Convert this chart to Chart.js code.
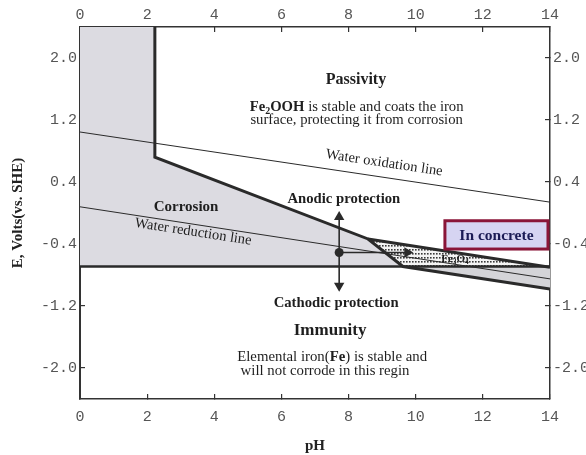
<!DOCTYPE html>
<html>
<head>
<meta charset="utf-8">
<script src="https://cdn.jsdelivr.net/npm/chart.js@4.4.1/dist/chart.umd.min.js"></script>
<style>
  html, body { margin: 0; padding: 0; background: #fff; }
</style>
</head>
<body>
<canvas id="pourbaix" width="586" height="455"></canvas>
<script>
// axes
const phTicks = [0, 2, 4, 6, 8, 10, 12, 14];
const eTicks = [-2.0, -1.2, -0.4, 0.4, 1.2, 2.0];
const phRange = [0, 14];
const eRange = [-2.4, 2.4];

// regions and boundaries, [pH, E]
const corrosionRegion = [[0, -0.69], [0, 2.4], [2.23, 2.4], [2.23, 0.72], [8.58, -0.335], [9.62, -0.69]];
const magnetiteRegion = [[8.58, -0.335], [9.62, -0.69], [14, -0.70]];
const alkalineRegion = [[9.62, -0.69], [14, -0.98], [14, -0.70]];
const passiveBoundary = [[2.23, 2.4], [2.23, 0.72], [8.58, -0.335], [9.62, -0.69], [14, -0.98]];
const oxideBoundary = [[8.58, -0.335], [14, -0.70]];
const immunityBoundary = [[0, -0.69], [14, -0.69]];
const waterOxidation = [[0, 1.045], [14, 0.14]];
const waterReduction = [[0, 0.08], [14, -0.85]];

// protection arrows (start at the operating point)
const operatingPoint = [[7.72, -0.51]];
const anodicArrow = [[7.72, -0.51], [7.72, -0.05]];
const cathodicArrow = [[7.72, -0.51], [7.72, -0.94]];
const concreteArrow = [[7.72, -0.51], [9.75, -0.51]];

// text
const textLabels = [
  { at: [8.22, 1.73], size: 16, parts: [['Passivity', 'b']] },
  { at: [8.24, 1.38], size: 14.7, parts: [['Fe', 'b'], ['2', 'bs'], ['OOH', 'b'], [' is stable and coats the iron', '']] },
  { at: [8.24, 1.21], size: 14.7, parts: [['surface, protecting it from corrosion', '']] },
  { at: [7.86, 0.19], size: 14.7, parts: [['Anodic protection', 'b']] },
  { at: [3.16, 0.09], size: 15, parts: [['Corrosion', 'b']] },
  { at: [7.63, -1.15], size: 14.7, parts: [['Cathodic protection', 'b']] },
  { at: [7.45, -1.50], size: 17, parts: [['Immunity', 'b']] },
  { at: [7.51, -1.845], size: 14.8, parts: [['Elemental iron(', ''], ['Fe', 'b'], [') is stable and', '']] },
  { at: [7.30, -2.03], size: 14.8, parts: [['will not corrode in this regin', '']] },
  { at: [11.17, -0.58], size: 11, parts: [['Fe', 'b'], ['3', 'bs'], ['O', 'b'], ['4', 'bs']] }
];
const lineLabels = [
  { text: 'Water oxidation line', along: waterOxidation, at: [9.06, 0.645], size: 14.5 },
  { text: 'Water reduction line', along: waterReduction, at: [3.37, -0.245], size: 14.5 }
];
const concreteBox = { text: 'In concrete', ph: [10.87, 13.94], e: [-0.10, -0.465] };

const SERIF = '"Liberation Serif", "Times New Roman", serif';
const INK = '#2a2a2a';

const pts = (a) => a.map(([x, y]) => ({ x, y }));

// dotted fill for the Fe3O4 wedge
const dots = (() => {
  const c = document.createElement('canvas');
  c.width = 3; c.height = 4;
  const g = c.getContext('2d');
  g.fillStyle = '#f4f4f4';
  g.fillRect(0, 0, 3, 4);
  g.fillStyle = '#3a3a3a';
  g.fillRect(1, 1, 1.6, 1.6);
  return g.createPattern(c, 'repeat');
})();

const line = (data, width) => ({
  data: pts(data), borderColor: INK, borderWidth: width, pointRadius: 0, fill: false
});
const region = (data, bg) => ({
  data: pts(data), borderWidth: 0, borderColor: 'rgba(0,0,0,0)', backgroundColor: bg, pointRadius: 0, fill: 'shape'
});
const arrow = (data, rot) => ({
  data: pts(data), borderColor: INK, borderWidth: 1.6, fill: false,
  pointStyle: 'triangle', pointRadius: [0, 6], pointRotation: [0, rot],
  pointBackgroundColor: INK, pointBorderWidth: 0
});

function richText(ctx, parts, cx, cy, size) {
  const segs = parts.map(([t, s]) => {
    const sub = s.includes('s');
    const font = (s.includes('b') ? 'bold ' : '') + (sub ? size * 0.68 : size) + 'px ' + SERIF;
    ctx.font = font;
    return { t, font, sub, w: ctx.measureText(t).width };
  });
  const total = segs.reduce((a, s) => a + s.w, 0);
  let xx = cx - total / 2;
  const base = cy + size * 0.33;
  ctx.textAlign = 'left';
  ctx.textBaseline = 'alphabetic';
  for (const s of segs) {
    ctx.font = s.font;
    ctx.fillText(s.t, xx, base + (s.sub ? size * 0.22 : 0));
    xx += s.w;
  }
}

const annotate = {
  id: 'annotate',
  afterDatasetsDraw(chart) {
    const { ctx } = chart;
    const x = chart.scales.x, y = chart.scales.y;
    ctx.save();
    ctx.fillStyle = '#1e1e1e';
    for (const l of textLabels) {
      richText(ctx, l.parts, x.getPixelForValue(l.at[0]), y.getPixelForValue(l.at[1]), l.size);
    }
    for (const l of lineLabels) {
      const [a, b] = l.along;
      const ang = Math.atan2(y.getPixelForValue(b[1]) - y.getPixelForValue(a[1]),
                             x.getPixelForValue(b[0]) - x.getPixelForValue(a[0]));
      ctx.save();
      ctx.translate(x.getPixelForValue(l.at[0]), y.getPixelForValue(l.at[1]));
      ctx.rotate(ang);
      ctx.font = l.size + 'px ' + SERIF;
      ctx.textAlign = 'center';
      ctx.textBaseline = 'middle';
      ctx.fillText(l.text, 0, 0);
      ctx.restore();
    }
    // "In concrete" box
    const bx0 = x.getPixelForValue(concreteBox.ph[0]), bx1 = x.getPixelForValue(concreteBox.ph[1]);
    const by0 = y.getPixelForValue(concreteBox.e[0]), by1 = y.getPixelForValue(concreteBox.e[1]);
    ctx.fillStyle = '#d6d4f2';
    ctx.fillRect(bx0, by0, bx1 - bx0, by1 - by0);
    ctx.strokeStyle = '#8a1538';
    ctx.lineWidth = 3;
    ctx.strokeRect(bx0, by0, bx1 - bx0, by1 - by0);
    ctx.fillStyle = '#1b1b55';
    ctx.font = 'bold 15.5px ' + SERIF;
    ctx.textAlign = 'center';
    ctx.textBaseline = 'middle';
    ctx.fillText(concreteBox.text, (bx0 + bx1) / 2, (by0 + by1) / 2 + 1);
    ctx.restore();
  }
};

const tickFont = { family: '"Liberation Mono", monospace', size: 15 };
const titleFont = { family: SERIF, size: 15, weight: 'bold' };
const axisBorder = { color: '#333', width: 1.5 };
const tickGrid = { drawOnChartArea: false, tickLength: -5, color: '#333', lineWidth: 1.2 };

const phAxis = (position, padding, height) => ({
  type: 'linear', position, min: phRange[0], max: phRange[1],
  afterBuildTicks: (s) => { s.ticks = phTicks.map((v) => ({ value: v })); },
  afterFit: (s) => { s.height = height; },
  ticks: { font: tickFont, color: '#555', padding, callback: (v) => String(v) },
  grid: tickGrid, border: axisBorder
});
const eAxis = (position, padding, width) => ({
  type: 'linear', position, min: eRange[0], max: eRange[1],
  afterBuildTicks: (s) => { s.ticks = eTicks.map((v) => ({ value: v })); },
  afterFit: (s) => { s.width = width; },
  ticks: { font: tickFont, color: '#555', padding, callback: (v) => Number(v).toFixed(1) },
  grid: tickGrid, border: axisBorder
});

const scales = {
  x: phAxis('bottom', 14, 56),
  x2: phAxis('top', 8, 27),
  y: eAxis('left', 8, 80),
  y2: eAxis('right', 8, 36)
};
scales.x.title = { display: true, text: 'pH', font: titleFont, color: '#222', padding: { top: 5, bottom: 0 } };
scales.y.title = { display: true, text: 'E, Volts(vs. SHE)', font: titleFont, color: '#222', padding: { top: 9, bottom: 0 } };
scales.y.border = { color: '#333', width: 2 };

new Chart(document.getElementById('pourbaix'), {
  type: 'line',
  data: {
    datasets: [
      { data: pts(operatingPoint), pointRadius: 4.5, pointBackgroundColor: INK, pointBorderWidth: 0, showLine: false },
      arrow(anodicArrow, 0),
      arrow(cathodicArrow, 180),
      arrow(concreteArrow, 90),
      line(passiveBoundary, 3),
      line(oxideBoundary, 3),
      line(immunityBoundary, 2.5),
      line(waterOxidation, 1),
      line(waterReduction, 1),
      region(magnetiteRegion, dots),
      region(alkalineRegion, '#d4d4d8'),
      region(corrosionRegion, '#dcdbe1')
    ]
  },
  options: {
    responsive: false,
    animation: false,
    events: [],
    layout: { padding: 0 },
    elements: { line: { tension: 0 } },
    plugins: { legend: { display: false }, tooltip: { enabled: false } },
    scales
  },
  plugins: [annotate]
});
</script>
</body>
</html>
